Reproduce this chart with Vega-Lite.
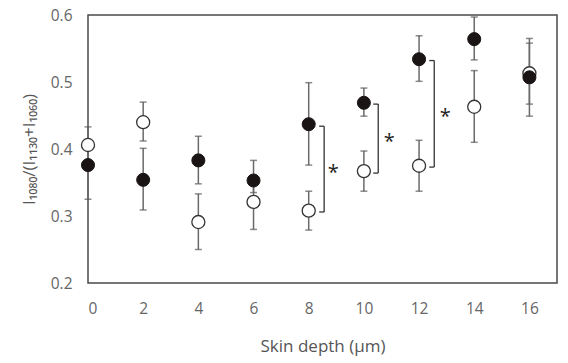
{
  "$schema": "https://vega.github.io/schema/vega-lite/v6.json",
  "width": 469,
  "height": 268,
  "autosize": {"type": "none"},
  "padding": {"left": 88, "top": 15, "right": 11, "bottom": 80},
  "background": "white",
  "config": {
    "view": {"stroke": "#4a4a4a", "strokeWidth": 1.5},
    "font": "Open Sans",
    "axis": {"grid": false, "domain": false, "ticks": false, "labelColor": "#666666", "titleColor": "#555555", "labelFontSize": 15.5, "titleFontSize": 17, "titleFontWeight": "normal", "labelFont": "Open Sans", "titleFont": "Open Sans"}
  },
  "datasets": {
    "pts": [
      {"depth": 0, "group": "open", "mean": 0.406, "lo": 0.325, "hi": 0.433},
      {"depth": 0, "group": "filled", "mean": 0.376, "lo": null, "hi": null},
      {"depth": 2, "group": "open", "mean": 0.440, "lo": 0.412, "hi": 0.470},
      {"depth": 2, "group": "filled", "mean": 0.354, "lo": 0.309, "hi": 0.401},
      {"depth": 4, "group": "open", "mean": 0.291, "lo": 0.250, "hi": 0.333},
      {"depth": 4, "group": "filled", "mean": 0.383, "lo": 0.348, "hi": 0.419},
      {"depth": 6, "group": "open", "mean": 0.321, "lo": 0.280, "hi": 0.360},
      {"depth": 6, "group": "filled", "mean": 0.353, "lo": 0.335, "hi": 0.383},
      {"depth": 8, "group": "open", "mean": 0.308, "lo": 0.279, "hi": 0.337},
      {"depth": 8, "group": "filled", "mean": 0.437, "lo": 0.376, "hi": 0.499},
      {"depth": 10, "group": "open", "mean": 0.367, "lo": 0.337, "hi": 0.397},
      {"depth": 10, "group": "filled", "mean": 0.469, "lo": 0.449, "hi": 0.491},
      {"depth": 12, "group": "open", "mean": 0.375, "lo": 0.337, "hi": 0.413},
      {"depth": 12, "group": "filled", "mean": 0.534, "lo": 0.501, "hi": 0.569},
      {"depth": 14, "group": "open", "mean": 0.463, "lo": 0.410, "hi": 0.517},
      {"depth": 14, "group": "filled", "mean": 0.564, "lo": 0.533, "hi": 0.597},
      {"depth": 16, "group": "open", "mean": 0.513, "lo": 0.449, "hi": 0.565},
      {"depth": 16, "group": "filled", "mean": 0.507, "lo": 0.467, "hi": 0.558}
    ],
    "brackets": [
      {"xs": 8.38, "xb": 8.56, "top": 0.434, "bottom": 0.306, "sx": 8.89, "sy": 0.370},
      {"xs": 10.34, "xb": 10.52, "top": 0.467, "bottom": 0.364, "sx": 10.92, "sy": 0.416},
      {"xs": 12.37, "xb": 12.55, "top": 0.532, "bottom": 0.373, "sx": 12.95, "sy": 0.454}
    ]
  },
  "layer": [
    {
      "data": {"name": "pts"},
      "mark": {"type": "rule", "color": "#6a6a6a", "strokeWidth": 1.5},
      "encoding": {
        "x": {"field": "depth", "type": "quantitative", "scale": {"domain": [0, 17], "nice": false}, "axis": {"values": [0, 2, 4, 6, 8, 10, 12, 14, 16], "title": "Skin depth (μm)", "labelPadding": 18, "titlePadding": 22}},
        "y": {"field": "lo", "type": "quantitative", "scale": {"domain": [0.2, 0.6], "nice": false}, "axis": {"values": [0.2, 0.3, 0.4, 0.5, 0.6], "format": ".1f", "title": "I₁₀₈₀/(I₁₁₃₀+I₁₀₆₀)", "labelPadding": 16, "titlePadding": 12}},
        "y2": {"field": "hi"}
      }
    },
    {
      "data": {"name": "pts"},
      "mark": {"type": "tick", "orient": "horizontal", "color": "#5a5a5a", "size": 7, "thickness": 1.5},
      "encoding": {
        "x": {"field": "depth", "type": "quantitative"},
        "y": {"field": "lo", "type": "quantitative"}
      }
    },
    {
      "data": {"name": "pts"},
      "mark": {"type": "tick", "orient": "horizontal", "color": "#5a5a5a", "size": 7, "thickness": 1.5},
      "encoding": {
        "x": {"field": "depth", "type": "quantitative"},
        "y": {"field": "hi", "type": "quantitative"}
      }
    },
    {
      "data": {"name": "pts"},
      "transform": [{"filter": "datum.group === 'open'"}],
      "mark": {"type": "point", "shape": "circle", "filled": true, "fill": "white", "stroke": "#333333", "strokeWidth": 1.3, "size": 170, "opacity": 1},
      "encoding": {
        "x": {"field": "depth", "type": "quantitative"},
        "y": {"field": "mean", "type": "quantitative"}
      }
    },
    {
      "data": {"name": "pts"},
      "transform": [{"filter": "datum.group === 'filled'"}],
      "mark": {"type": "point", "shape": "circle", "filled": true, "fill": "#1a1414", "stroke": "#1a1414", "strokeWidth": 1, "size": 170, "opacity": 1},
      "encoding": {
        "x": {"field": "depth", "type": "quantitative"},
        "y": {"field": "mean", "type": "quantitative"}
      }
    },
    {
      "data": {"name": "brackets"},
      "mark": {"type": "rule", "color": "#333333", "strokeWidth": 1.3},
      "encoding": {
        "x": {"field": "xb", "type": "quantitative"},
        "y": {"field": "top", "type": "quantitative"},
        "y2": {"field": "bottom"}
      }
    },
    {
      "data": {"name": "brackets"},
      "mark": {"type": "rule", "color": "#333333", "strokeWidth": 1.3},
      "encoding": {
        "x": {"field": "xs", "type": "quantitative"},
        "x2": {"field": "xb"},
        "y": {"field": "top", "type": "quantitative"}
      }
    },
    {
      "data": {"name": "brackets"},
      "mark": {"type": "rule", "color": "#333333", "strokeWidth": 1.3},
      "encoding": {
        "x": {"field": "xs", "type": "quantitative"},
        "x2": {"field": "xb"},
        "y": {"field": "bottom", "type": "quantitative"}
      }
    },
    {
      "data": {"name": "brackets"},
      "mark": {"type": "text", "text": "*", "fontSize": 20, "color": "#222222", "baseline": "middle", "dy": 4},
      "encoding": {
        "x": {"field": "sx", "type": "quantitative"},
        "y": {"field": "sy", "type": "quantitative"}
      }
    }
  ]
}
